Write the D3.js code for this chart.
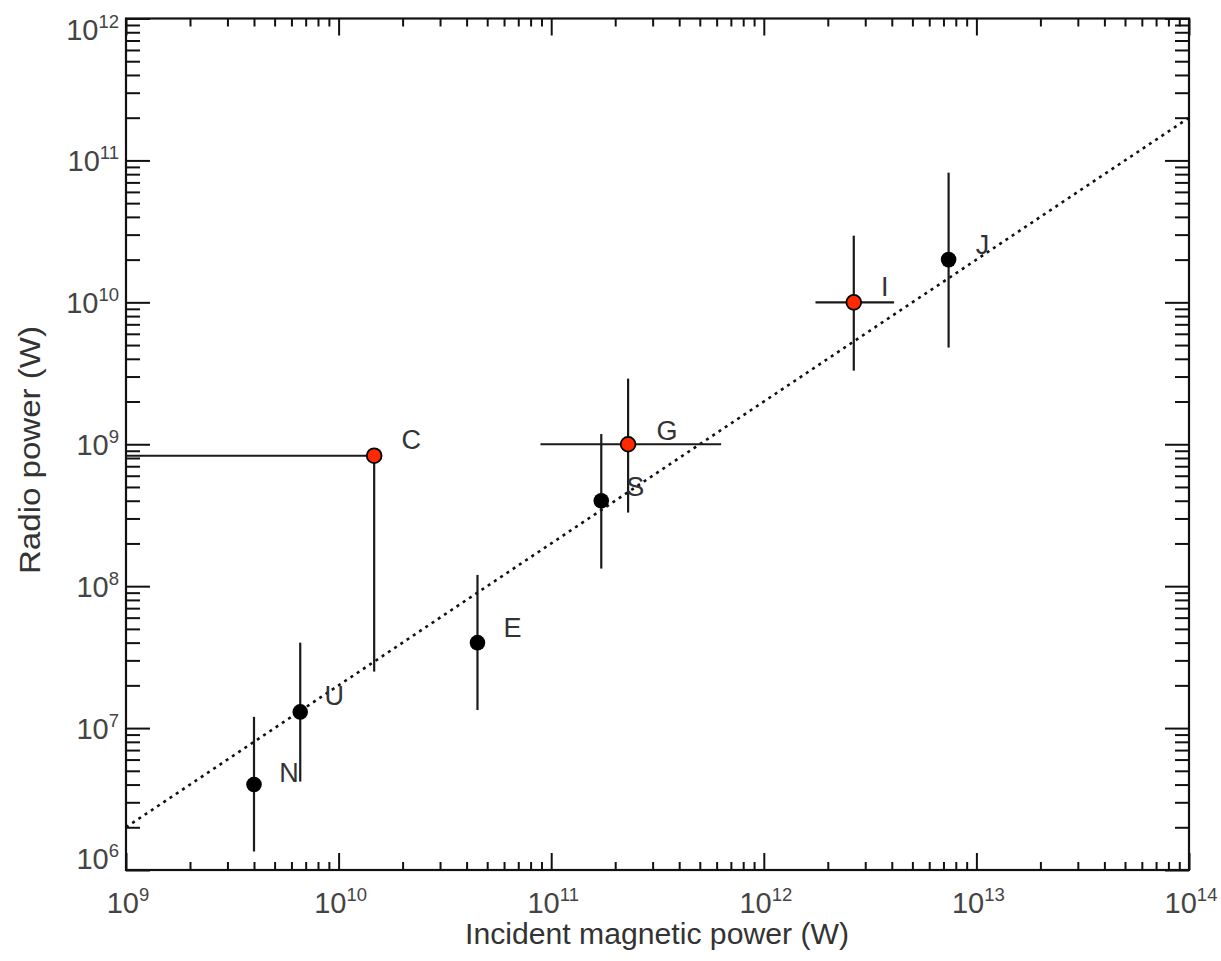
<!DOCTYPE html>
<html>
<head>
<meta charset="utf-8">
<script src="https://cdn.jsdelivr.net/npm/d3@7"></script>
<style>
  body { margin: 0; background: #fff; }
  text { font-family: "Liberation Sans", Arial, Helvetica, sans-serif; }
</style>
</head>
<body>
<svg id="chart" width="1221" height="961"></svg>
<script>
// Radio power versus incident magnetic power for each body
const bodies        = ["N", "U", "C", "E", "S", "G", "I", "J"];
const magneticPower = [4.0e9, 6.6e9, 1.47e10, 4.5e10, 1.72e11, 2.3e11, 2.65e12, 7.4e12];
const radioPower    = [4.0e6, 1.3e7, 8.3e8, 4.0e7, 4.0e8, 1.0e9, 1.0e10, 2.0e10];
const radioLow      = [1.35e6, 4.2e6, 2.5e7, 1.34e7, 1.33e8, 3.3e8, 3.3e9, 4.8e9];
const radioHigh     = [1.2e7, 4.0e7, 8.3e8, 1.2e8, 1.18e9, 2.9e9, 2.95e10, 8.2e10];
const magneticLow   = [null, null, 1.0e9, null, null, 8.9e10, 1.75e12, null];
const magneticHigh  = [null, null, 1.47e10, null, null, 6.3e11, 4.1e12, null];
const highlighted   = [false, false, true, false, false, true, true, false];

// Scaling law drawn as the dotted line: P_radio = k * P_magnetic
const fitCoefficient = 2e-3;
const fitRange = [1e9, 1e14];

// Axis decades and titles
const xExponents = [9, 10, 11, 12, 13, 14];
const yExponents = [6, 7, 8, 9, 10, 11, 12];
const xTitle = "Incident magnetic power (W)";
const yTitle = "Radio power (W)";

const svg = d3.select("#chart");
const x = d3.scaleLog().domain([1e9, 1e14]).range([126, 1189]);
const y = d3.scaleLog().domain([1e6, 1e12]).range([870, 18.5]);

const isMajor = d => Math.abs(Math.log10(d) - Math.round(Math.log10(d))) < 1e-9;

// Frame
svg.append("rect")
  .attr("x", x.range()[0]).attr("y", y.range()[1])
  .attr("width", x.range()[1] - x.range()[0])
  .attr("height", y.range()[0] - y.range()[1])
  .attr("fill", "none").attr("stroke", "#111").attr("stroke-width", 2.2);

// Inward ticks on all four sides
function addAxis(axis, transform, attr, sign, majorLen) {
  const g = svg.append("g").attr("transform", transform).call(axis);
  g.select(".domain").remove();
  g.selectAll(".tick text").remove();
  g.selectAll(".tick line").attr("stroke", "#111").attr("stroke-width", 2);
  g.selectAll(".tick").filter(isMajor).select("line").attr(attr, sign * majorLen);
  return g;
}
const xt = x.ticks(), yt = y.ticks();
addAxis(d3.axisBottom(x).tickValues(xt).tickSize(-8).tickFormat(""), `translate(0,${y.range()[0]})`, "y2", -1, 17);
addAxis(d3.axisTop(x).tickValues(xt).tickSize(-8).tickFormat(""), `translate(0,${y.range()[1]})`, "y2", 1, 17);
addAxis(d3.axisLeft(y).tickValues(yt).tickSize(-14).tickFormat(""), `translate(${x.range()[0]},0)`, "x2", 1, 24);
addAxis(d3.axisRight(y).tickValues(yt).tickSize(-14).tickFormat(""), `translate(${x.range()[1]},0)`, "x2", -1, 24);

// Power-of-ten tick labels
function powerLabel(sel, exp) {
  sel.append("tspan").attr("font-size", 29).text("10");
  sel.append("tspan").attr("font-size", 18.5).attr("dy", -12).text(exp);
}
xExponents.forEach(e => {
  const t = svg.append("text")
    .attr("x", x(Math.pow(10, e)) + 2).attr("y", 913)
    .attr("text-anchor", "middle").attr("fill", "#444");
  powerLabel(t, e);
});
yExponents.forEach(e => {
  const base = Math.max(40, Math.min(869, y(Math.pow(10, e)) + 11));
  const t = svg.append("text")
    .attr("x", 119).attr("y", base)
    .attr("text-anchor", "end").attr("fill", "#444");
  powerLabel(t, e);
});

// Axis titles
svg.append("text")
  .attr("x", 657).attr("y", 944).attr("text-anchor", "middle")
  .attr("font-size", 29).attr("fill", "#333")
  .attr("textLength", 384).attr("lengthAdjust", "spacingAndGlyphs")
  .text(xTitle);
svg.append("text")
  .attr("transform", "translate(40,450) rotate(-90)")
  .attr("text-anchor", "middle")
  .attr("font-size", 29).attr("fill", "#333")
  .attr("textLength", 248).attr("lengthAdjust", "spacingAndGlyphs")
  .text(yTitle);

// Dotted scaling line
svg.append("line")
  .attr("x1", x(fitRange[0])).attr("y1", y(fitCoefficient * fitRange[0]))
  .attr("x2", x(fitRange[1])).attr("y2", y(fitCoefficient * fitRange[1]))
  .attr("stroke", "#111").attr("stroke-width", 2.6)
  .attr("stroke-dasharray", "3,4.5");

const data = bodies.map((b, i) => ({
  name: b, mx: magneticPower[i], ry: radioPower[i],
  lo: radioLow[i], hi: radioHigh[i],
  mlo: magneticLow[i], mhi: magneticHigh[i], red: highlighted[i]
}));

// Error bars
const bars = svg.append("g").attr("stroke", "#1a1a1a").attr("stroke-width", 2.2);
data.forEach(d => {
  bars.append("line")
    .attr("x1", x(d.mx)).attr("x2", x(d.mx))
    .attr("y1", y(d.hi)).attr("y2", y(d.lo));
  if (d.mlo !== null) {
    bars.append("line")
      .attr("x1", x(d.mlo)).attr("x2", x(d.mhi))
      .attr("y1", y(d.ry)).attr("y2", y(d.ry));
  }
});

// Markers
svg.append("g").selectAll("circle").data(data).join("circle")
  .attr("cx", d => x(d.mx)).attr("cy", d => y(d.ry))
  .attr("r", d => d.red ? 7.4 : 7.8)
  .attr("fill", d => d.red ? "#ff2a00" : "#000")
  .attr("stroke", "#000").attr("stroke-width", d => d.red ? 1.8 : 0);

// Body labels, offset (centre) from each marker
const labelOffsets = {
  N: [35, -12], U: [34, -16], C: [37, -16], E: [35, -15],
  S: [34, -14], G: [39, -14], I: [31, -16], J: [34, -15]
};
svg.append("g").selectAll("text").data(data).join("text")
  .attr("x", d => x(d.mx) + labelOffsets[d.name][0])
  .attr("y", d => y(d.ry) + labelOffsets[d.name][1] + 9.5)
  .attr("text-anchor", "middle")
  .attr("font-size", 27).attr("fill", "#333")
  .text(d => d.name);
</script>
</body>
</html>
